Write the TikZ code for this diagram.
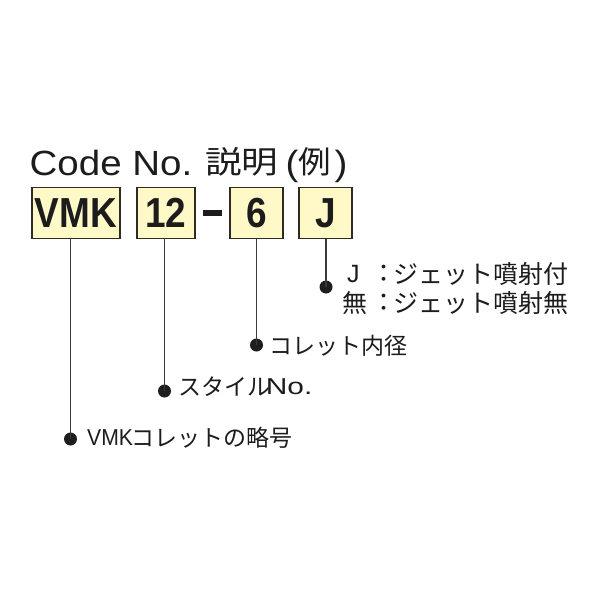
\documentclass[tikz,border=0pt]{standalone}
\usepackage{fontspec}
\setmainfont{Liberation Sans}
\newfontfamily\jp{Noto Sans CJK JP}
\definecolor{boxfill}{HTML}{FFF9C8}
\definecolor{boxline}{HTML}{2E2A24}
\definecolor{leadc}{HTML}{3A3A3A}
\definecolor{dotcol}{HTML}{1E1E1E}
\definecolor{txt}{HTML}{1C1C1C}
\begin{document}
\begin{tikzpicture}[x=1pt,y=-1pt,
  codebox/.style={draw=boxline,line width=1.3pt,fill=boxfill,inner sep=0pt,
    font=\fontsize{42}{42}\bfseries\selectfont,text=txt,minimum height=51pt},
  lead/.style={draw=leadc,line width=1.1pt},
  dotnode/.style={circle,fill=dotcol,inner sep=0pt,minimum size=13pt},
  lbl/.style={inner sep=0pt,anchor=west,text=txt},
  jpl/.style={lbl,font=\jp\fontsize{23}{23}\selectfont},
  jpm/.style={lbl,font=\jp\fontsize{25}{25}\selectfont},
  ttl/.style={inner sep=0pt,anchor=base west,text=txt,font=\fontsize{35}{35}\selectfont},
  ttlj/.style={inner sep=0pt,anchor=base west,text=txt,font=\jp\fontsize{31}{31}\selectfont}]
\useasboundingbox (0,0) rectangle (600,600);
\fill[white] (0,0) rectangle (600,600);

% title
\node[ttl] (code) at (29.5,175) {\scalebox{1.1}[1]{Code No.}};
\node[ttlj] (setsu) at (205,173) {\scalebox{1.18}[1]{説明}};
\node[ttl] (lp) at (285.5,175) {\scalebox{1.1}[1]{(}};
\node[ttlj] (rei) at (298.5,173) {\scalebox{1.05}[1]{例}};
\node[ttl] (rp) at (334.5,175) {\scalebox{1.1}[1]{)}};

% code boxes
\node[codebox,minimum width=88pt] (vmk) at (76,213) {\scalebox{0.88}[1]{VMK}};
\node[codebox,minimum width=58pt] (num) at (166,213) {\scalebox{0.88}[1]{12}};
\node[codebox,minimum width=53pt] (dia) at (256.5,213) {\scalebox{0.88}[1]{6}};
\node[codebox,minimum width=53pt] (jet) at (325.5,213) {\scalebox{0.88}[1]{J}};
\node[fill=txt,inner sep=0pt,minimum width=19pt,minimum height=6pt] (dash) at (212.5,213) {};

% dots
\node[dotnode] (d1) at (70.5,439) {};
\node[dotnode] (d2) at (164.5,391) {};
\node[dotnode] (d3) at (256.5,345) {};
\node[dotnode] (d4) at (326,287) {};

% leads
\draw[lead] (d1.center) -- (d1 |- vmk.south);
\draw[lead] (d2.center) -- (d2 |- num.south);
\draw[lead] (d3.center) -- (d3 |- dia.south);
\draw[lead] (d4.center) -- (d4 |- jet.south);

% labels
\node[lbl,font=\fontsize{25}{25}\selectfont] (j1) at (347,274) {J};
\node[inner sep=0pt,text=txt,font=\jp\fontsize{25}{25}\selectfont] (c1) at (384,274) {：};
\node[jpm] (t1) at (393,274) {ジェット噴射付};
\node[jpm] (m2) at (342,303) {無};
\node[inner sep=0pt,text=txt,font=\jp\fontsize{25}{25}\selectfont] (c2) at (384,303) {：};
\node[jpm] (t2) at (393,303) {ジェット噴射無};

\node[jpl] (l3) at (269.5,346) {コレット内径};

\node[jpl] (l2a) at (178,387) {スタイル};
\node[lbl,font=\fontsize{23}{23}\selectfont] (l2b) at (265.6,387) {\scalebox{1.3}[1]{No.}};

\node[lbl,font=\fontsize{23}{23}\selectfont] (l1a) at (87,438) {\scalebox{0.92}[1]{VMK}};
\node[jpl] (l1b) at (131,438) {コレットの略号};
\end{tikzpicture}
\end{document}
